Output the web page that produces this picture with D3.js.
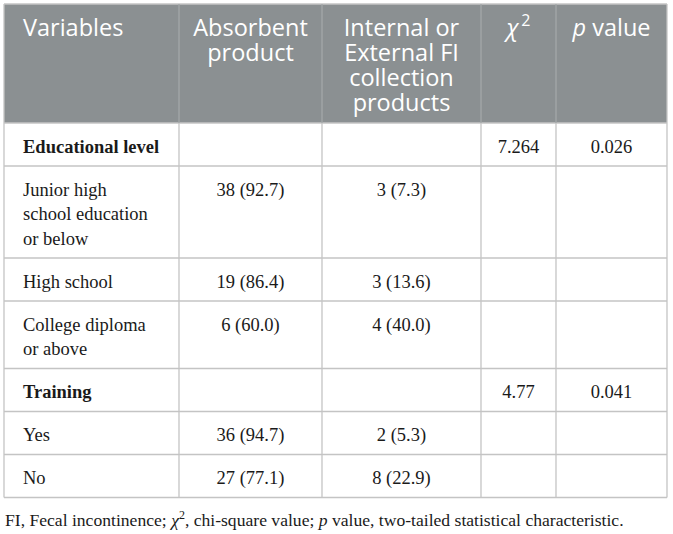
<!DOCTYPE html>
<html>
<head>
<meta charset="utf-8">
<script src="https://cdn.jsdelivr.net/npm/d3@7"></script>
<style>
  body { margin: 0; background: #fff; }
  svg { display: block; }
</style>
</head>
<body>
<svg width="673" height="534"></svg>
<script>
// table content
let headerLines = [
    ['Variables'],
    ['Absorbent', 'product'],
    ['Internal or', 'External FI', 'collection', 'products'],
    ['chi'],
    ['pvalue']
];
let rowLabels = [
    ['Educational level'],
    ['Junior high', 'school education', 'or below'],
    ['High school'],
    ['College diploma', 'or above'],
    ['Training'],
    ['Yes'],
    ['No']
];
let groupRows = ['Educational level', 'Training'];
let absorbent = ['', '38 (92.7)', '19 (86.4)', '6 (60.0)', '', '36 (94.7)', '27 (77.1)'];
let collection = ['', '3 (7.3)', '3 (13.6)', '4 (40.0)', '', '2 (5.3)', '8 (22.9)'];
let chiSquare = ['7.264', '', '', '', '4.77', '', ''];
let pValues = ['0.026', '', '', '', '0.041', '', ''];

function main() {
    let svg = d3.select('svg'),
        left = 4, top = 4,
        colWidths = [175, 143, 159, 75, 111],
        headerHeight = 119,
        lineH = 24.5,
        serif = '"Liberation Serif", "Times New Roman", serif',
        sans = '"Open Sans", "Noto Sans", sans-serif';

    // column edges via scale
    let edges = d3.cumsum([left].concat(colWidths));
    let xScale = d3.scaleOrdinal().domain(d3.range(5)).range(edges.slice(0, 5));
    let wScale = d3.scaleOrdinal().domain(d3.range(5)).range(colWidths);
    let right = edges[5];

    // row tops from line counts
    let rowHeights = rowLabels.map((l) => 18.5 + lineH * l.length);
    let rowTops = d3.cumsum([top + headerHeight].concat(rowHeights));
    let yScale = d3.scaleOrdinal().domain(d3.range(rowLabels.length)).range(rowTops.slice(0, -1));
    let bottom = rowTops[rowLabels.length];

    //Header background
    svg.append('rect')
        .attr('x', left).attr('y', top)
        .attr('width', right - left).attr('height', headerHeight)
        .attr('fill', '#8b9092');

    //Grid lines
    let grid = svg.append('g').attr('stroke', '#c4c4c4').attr('stroke-width', 1.3);
    grid.selectAll('line.h')
        .data(rowTops)
        .enter().append('line')
        .attr('x1', left).attr('x2', right)
        .attr('y1', (d) => d).attr('y2', (d) => d);
    grid.selectAll('line.v')
        .data(edges)
        .enter().append('line')
        .attr('x1', (d) => d).attr('x2', (d) => d)
        .attr('y1', (d, i) => (i === 0 || i === 5) ? top : top + headerHeight)
        .attr('y2', bottom);
    grid.append('line')
        .attr('x1', left).attr('x2', right).attr('y1', top).attr('y2', top);
    // lighter separators inside header
    svg.append('g').attr('stroke', '#a4a8a9').attr('stroke-width', 1.3)
        .selectAll('line')
        .data(edges.slice(1, 5))
        .enter().append('line')
        .attr('x1', (d) => d).attr('x2', (d) => d)
        .attr('y1', top).attr('y2', top + headerHeight);

    //Header text
    let head = svg.append('g')
        .attr('fill', '#fff')
        .style('font-family', sans)
        .style('font-size', '23.5px');
    headerLines.forEach((lines, c) => {
        let cx = c === 0 ? xScale(c) + 19 : xScale(c) + wScale(c) / 2;
        if (lines[0] === 'chi' || lines[0] === 'pvalue') {
            let t = head.append('text')
                .attr('x', cx)
                .attr('y', top + 32)
                .attr('text-anchor', 'middle');
            if (lines[0] === 'chi') {
                t.append('tspan').style('font-style', 'italic').text('χ');
                t.append('tspan').attr('dx', 3).attr('dy', -10).style('font-size', '16px').text('2');
            } else {
                t.append('tspan').style('font-style', 'italic').text('p');
                t.append('tspan').text(' value');
            }
            return;
        }
        lines.forEach((ln, i) => {
            head.append('text')
                .attr('x', cx)
                .attr('y', top + 32 + i * 25)
                .attr('text-anchor', c === 0 ? 'start' : 'middle')
                .text(ln);
        });
    });

    //Body text
    let body = svg.append('g')
        .attr('fill', '#1a1a1a')
        .style('font-family', serif)
        .style('font-size', '18.5px');
    let cols = [null, absorbent, collection, chiSquare, pValues];
    rowLabels.forEach((lines, r) => {
        let y0 = yScale(r) + 29.5;
        lines.forEach((ln, i) => {
            body.append('text')
                .attr('x', xScale(0) + 19)
                .attr('y', y0 + i * lineH)
                .style('font-weight', groupRows.includes(lines[0]) ? 'bold' : 'normal')
                .text(ln);
        });
        for (let c = 1; c < 5; c++) {
            if (!cols[c][r]) continue;
            body.append('text')
                .attr('x', xScale(c) + wScale(c) / 2)
                .attr('y', y0)
                .attr('text-anchor', 'middle')
                .text(cols[c][r]);
        }
    });

    //Footnote
    let foot = svg.append('text')
        .attr('x', 5)
        .attr('y', bottom + 28)
        .attr('fill', '#1a1a1a')
        .style('font-family', serif)
        .style('font-size', '17.6px');
    foot.append('tspan').text('FI, Fecal incontinence; ');
    foot.append('tspan').style('font-style', 'italic').text('χ');
    foot.append('tspan').attr('dy', -7).style('font-size', '12px').text('2');
    foot.append('tspan').attr('dy', 7).text(', chi-square value; ');
    foot.append('tspan').style('font-style', 'italic').text('p');
    foot.append('tspan').text(' value, two-tailed statistical characteristic.');
}

main();
</script>
</body>
</html>
